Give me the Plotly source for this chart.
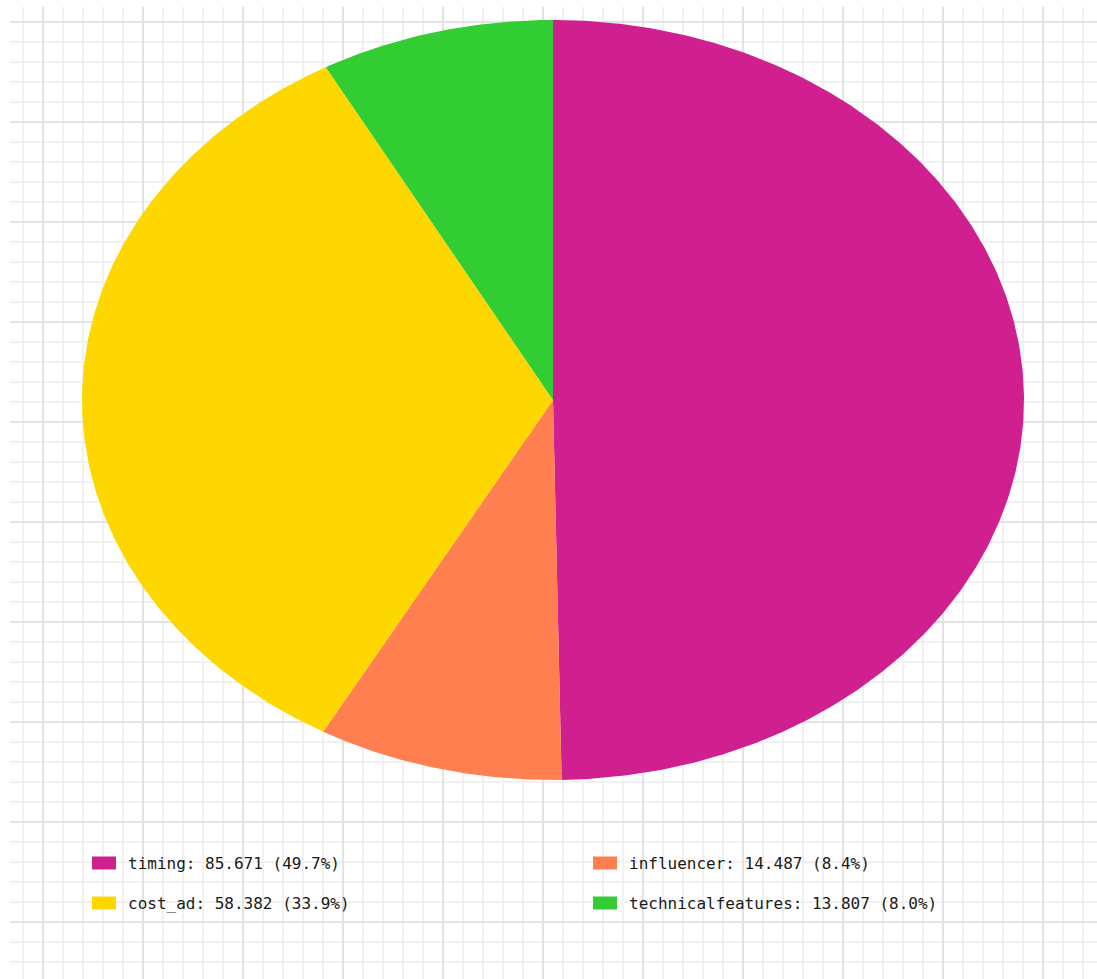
import numpy as np
import plotly.graph_objects as go

categories = ["timing", "influencer", "cost_ad", "technicalfeatures"]
values = [85.671, 14.487, 58.382, 13.807]
colors = ["#D02090", "#FF7F50", "#FFD700", "#32CD32"]
legend_order = [0, 1, 2, 3]

W, H = 1097, 979
cx, cy, ra, rb = 553, 400, 471, 380

fig = go.Figure()

total = sum(values)
start = 0.0
for name, v, c in zip(categories, values, colors):
    ext = v / total * 2 * np.pi
    t = np.linspace(start, start + ext, max(int(ext * 120), 4))
    xs = np.concatenate([[cx], cx + ra * np.sin(t), [cx]])
    ys = np.concatenate([[cy], cy - rb * np.cos(t), [cy]])
    fig.add_trace(go.Scatter(x=xs, y=ys, fill="toself", fillcolor=c, mode="lines",
                             line=dict(width=0, color=c), name=name, hoverinfo="skip",
                             showlegend=False))
    start += ext

# legend (2 columns)
col_x = [92, 593]
row_y = [863, 903]
for i, idx in enumerate(legend_order):
    col, row = i % 2, i // 2
    x0, y0 = col_x[col], row_y[row]
    fig.add_shape(type="rect", xref="x", yref="y", x0=x0, x1=x0 + 24, y0=y0 - 6.5, y1=y0 + 6.5,
                  fillcolor=colors[idx], line=dict(width=0))
    pct = values[idx] / total * 100
    fig.add_annotation(x=x0 + 34, y=y0, xref="x", yref="y", xanchor="left", yanchor="middle",
                       text=f"{categories[idx]}: {values[idx]:.3f} ({pct:.1f}%)",
                       showarrow=False, font=dict(family="DejaVu Sans Mono", size=16, color="#1a1a1a"))

grid = dict(showgrid=True, gridcolor="#e3e3e3", gridwidth=2, zeroline=False, showticklabels=False,
            ticks="", showline=False, fixedrange=True,
            minor=dict(showgrid=True, gridcolor="#f1f1f1", gridwidth=2, dtick=20))
fig.update_xaxes(range=[10, W], tick0=43, dtick=100, **grid)
fig.update_yaxes(range=[H, 7], tick0=22, dtick=100, **grid)
fig.update_xaxes(minor_tick0=23)
fig.update_yaxes(minor_tick0=22)

fig.update_layout(width=W, height=H, margin=dict(l=10, r=0, t=7, b=0),
                  paper_bgcolor="white", plot_bgcolor="white", showlegend=False)
fig.write_html("out.html")
